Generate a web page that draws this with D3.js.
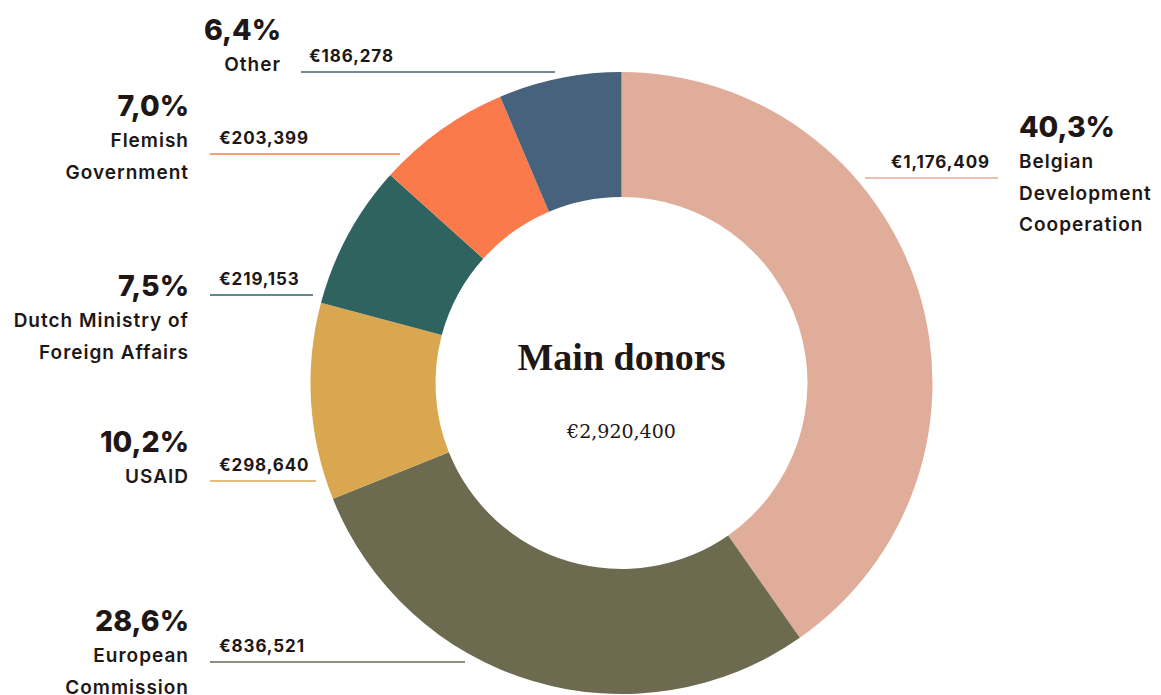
<!DOCTYPE html>
<html><head><meta charset="utf-8">
<script src="https://cdn.jsdelivr.net/npm/d3@7/dist/d3.min.js"></script>
<style>
html,body{margin:0;padding:0;background:#fff;}
svg{display:block;}
.pct{font-family:Inter,"Open Sans",sans-serif;font-weight:800;font-size:28.5px;fill:#1e1715;}
.lbl{font-family:Inter,"Open Sans",sans-serif;font-weight:600;font-size:19px;letter-spacing:1px;fill:#1e1715;}
.val{font-family:Inter,"Open Sans",sans-serif;font-weight:700;font-size:17px;letter-spacing:0.9px;fill:#1e1715;}
</style></head><body>
<svg id="c" width="1161" height="695"></svg>
<script>
const donors = ["Belgian Development Cooperation","European Commission","USAID","Dutch Ministry of Foreign Affairs","Flemish Government","Other"];
const labelLines = [["Belgian","Development","Cooperation"],["European","Commission"],["USAID"],["Dutch Ministry of","Foreign Affairs"],["Flemish","Government"],["Other"]];
const amounts = [1176409, 836521, 298640, 219153, 203399, 186278];
const colors = ["#e0ad9a","#6c6a4f","#d9a74f","#2f6360","#fb7a4c","#46627d"];
const title = "Main donors";

// layout (positions only)
const cx = 621.5, cy = 383, R = 311, r = 186;
const layout = [
  {side:"right", px:1019, py:137, lineY:178, x1:865, x2:998, vx:990},
  {side:"left",  px:189, py:631, lineY:662, x1:210, x2:465, vx:219},
  {side:"left",  px:189, py:452, lineY:481, x1:210, x2:316, vx:219},
  {side:"left",  px:189, py:296, lineY:295, x1:210, x2:313, vx:219},
  {side:"left",  px:189, py:116, lineY:154, x1:210, x2:400, vx:219},
  {side:"left",  px:281, py:40,  lineY:72,  x1:301, x2:555, vx:309}
];

const total = d3.sum(amounts);
const svg = d3.select("#c");
const pie = d3.pie().sort(null).value(d=>d);
const arc = d3.arc().innerRadius(r).outerRadius(R);
const g = svg.append("g").attr("transform",`translate(${cx},${cy})`);
g.selectAll("path").data(pie(amounts)).join("path")
  .attr("d",arc).attr("fill",(d,i)=>colors[i]);

const eur = d3.format(",");
const pctFmt = v => d3.format(".1f")(v*100).replace(".",",")+"%";

amounts.forEach((v,i)=>{
  const L = layout[i];
  svg.append("line").attr("x1",L.x1).attr("x2",L.x2).attr("y1",L.lineY).attr("y2",L.lineY)
    .attr("stroke",colors[i]).attr("stroke-width",1.3);
  const anchor = L.side==="left" ? "end" : "start";
  svg.append("text").attr("class","pct").attr("x",L.px).attr("y",L.py).attr("text-anchor",anchor).text(pctFmt(v/total));
  labelLines[i].forEach((t,j)=>{
    svg.append("text").attr("class","lbl").attr("x",L.px).attr("y",L.py+31+j*31.5).attr("text-anchor",anchor).text(t);
  });
  svg.append("text").attr("class","val").attr("x",L.vx).attr("y",L.lineY-10)
    .attr("text-anchor",L.side==="left"?"start":"end").text("€"+eur(v));
});

svg.append("text").attr("x",cx).attr("y",370).attr("text-anchor","middle")
  .style("font-family","'Liberation Serif','DejaVu Serif',serif").style("font-weight","700").style("font-size","38px").style("fill","#1e1715")
  .text(title);
svg.append("text").attr("x",cx).attr("y",438).attr("text-anchor","middle")
  .style("font-family","'DejaVu Serif','Liberation Serif',serif").style("font-size","19px").style("fill","#1e1715")
  .text("€"+eur(total));
</script></body></html>
